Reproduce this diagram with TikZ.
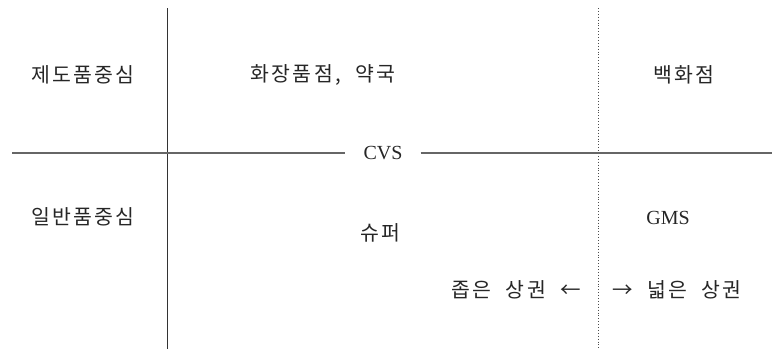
\documentclass[tikz,border=0pt]{standalone}
\usepackage{fontspec}
\setmainfont{Liberation Serif}
\newfontfamily\kr[LetterSpace=11,WordSpace=2.1]{Noto Sans CJK KR}
\begin{document}
\begin{tikzpicture}[x=1pt,y=-1pt,
  lbl/.style={font=\kr\fontsize{20.5}{22}\selectfont, inner sep=0pt, text=black!85},
  lat/.style={font=\fontsize{20}{22}\selectfont, inner sep=0pt, text=black!85},
  axis/.style={line width=1pt, draw=black!80},
  haxis/.style={line width=1.4pt, draw=black!60},
  daxis/.style={line width=0.9pt, draw=black!70, dotted}]
\useasboundingbox (0,0) rectangle (772,349);
% axes
\coordinate (vt) at (167,8);
\coordinate (vb) at (167,349);
\coordinate (dt) at (598,8);
\coordinate (db) at (598,349);
\coordinate (hl) at (12,153);
\coordinate (hr) at (772,153);
\node[lat, inner xsep=18pt] (cvs) at (383,153) {CVS};
\draw[axis] (vt) -- (vb);
\draw[daxis] (dt) -- (db);
\draw[haxis] (hl) -- (cvs.west);
\draw[haxis] (cvs.east) -- (hr);
% labels
\node[lbl] (n1) at (83,75) {제도품중심};
\node[lbl] (n2) at (323,75) {화장품점, 약국};
\node[lbl] (n3) at (684,75) {백화점};
\node[lbl] (n4) at (83,217) {일반품중심};
\node[lbl] (n5) at (380,233) {슈퍼};
\node[lat] (n6) at (668,218) {GMS};
\node[lbl, anchor=east] (n7) at (581,290) {좁은 상권 ←};
\node[lbl, anchor=west] (n8) at (612,290) {→ 넓은 상권};
\end{tikzpicture}
\end{document}
